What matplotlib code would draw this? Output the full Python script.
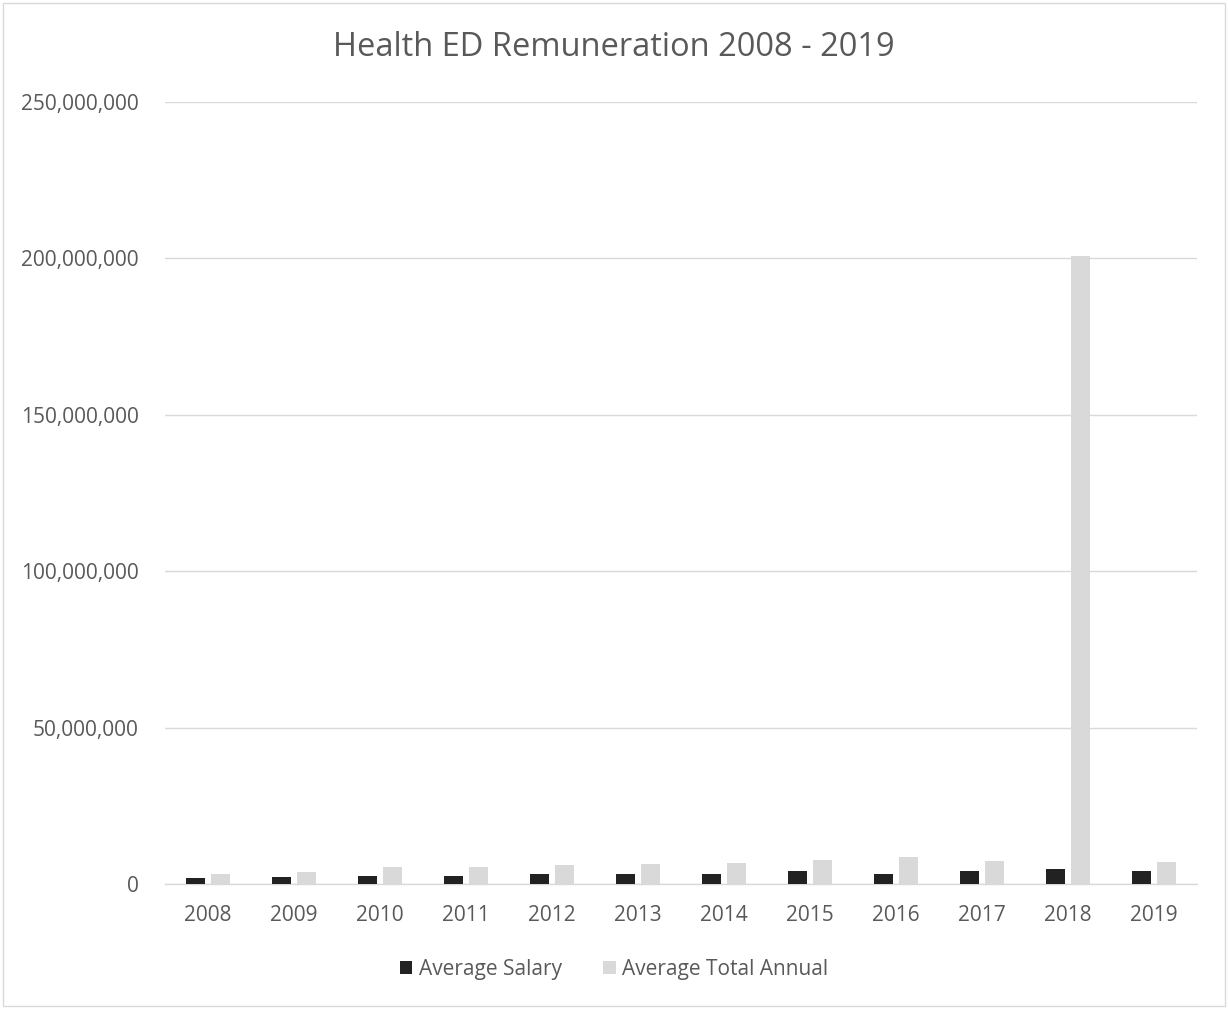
import matplotlib
matplotlib.use("Agg")
import matplotlib.pyplot as plt
import numpy as np
from matplotlib.ticker import FuncFormatter

years = ["2008", "2009", "2010", "2011", "2012", "2013", "2014", "2015", "2016", "2017", "2018", "2019"]
avg_salary = [1.8e6, 2.1e6, 2.65e6, 2.65e6, 3.2e6, 3.3e6, 3.3e6, 4.15e6, 3.3e6, 4.05e6, 4.8e6, 4.1e6]
avg_total = [3.1e6, 3.9e6, 5.5e6, 5.5e6, 6.2e6, 6.4e6, 6.8e6, 7.6e6, 8.7e6, 7.35e6, 200.8e6, 6.9e6]

plt.rcParams['font.family'] = ['Open Sans', 'DejaVu Sans']
txt = '#595959'

fig = plt.figure(figsize=(12.28, 10.09), dpi=100)
ax = fig.add_axes([165/1228, 1 - 884/1009, 1032/1228, 782/1009])

x = np.arange(len(years))
w = 0.22
ax.bar(x - 0.142, avg_salary, w, color='#222222', label='Average Salary', zorder=3)
ax.bar(x + 0.142, avg_total, w, color='#d9d9d9', label='Average Total Annual', zorder=3)

ax.set_xlim(-0.5, len(years) - 0.5)
ax.set_ylim(0, 250e6)
ax.set_yticks(np.arange(0, 250e6 + 1, 50e6))
ax.yaxis.set_major_formatter(FuncFormatter(lambda v, p: f"{int(v):,}"))
ax.set_xticks(x)
ax.set_xticklabels(years)
ax.grid(axis='y', color='#d9d9d9', linewidth=1, zorder=0)
for s in ['top', 'right', 'left']:
    ax.spines[s].set_visible(False)
ax.spines['bottom'].set_color('#d9d9d9')
ax.spines['bottom'].set_linewidth(1)
ax.tick_params(axis='both', length=0, labelsize=15, colors=txt)
ax.tick_params(axis='y', pad=19)
ax.tick_params(axis='x', pad=15)

fig.text(0.5, 1 - 47/1009, "Health ED Remuneration 2008 - 2019", ha='center', va='center',
         fontsize=23.5, color=txt)

leg = fig.legend(loc='center', bbox_to_anchor=(0.5, 1 - 969/1009), ncol=2, frameon=False,
                 fontsize=15, handlelength=0.6, handleheight=0.6, handletextpad=0.3,
                 columnspacing=2.0, labelcolor=txt)

border = plt.Rectangle((3/1228, 3/1009), 1 - 6/1228, 1 - 6/1009, transform=fig.transFigure,
                       fill=False, edgecolor='#d9d9d9', linewidth=1)
fig.add_artist(border)

fig.savefig("out.png", dpi=100, facecolor='white')
